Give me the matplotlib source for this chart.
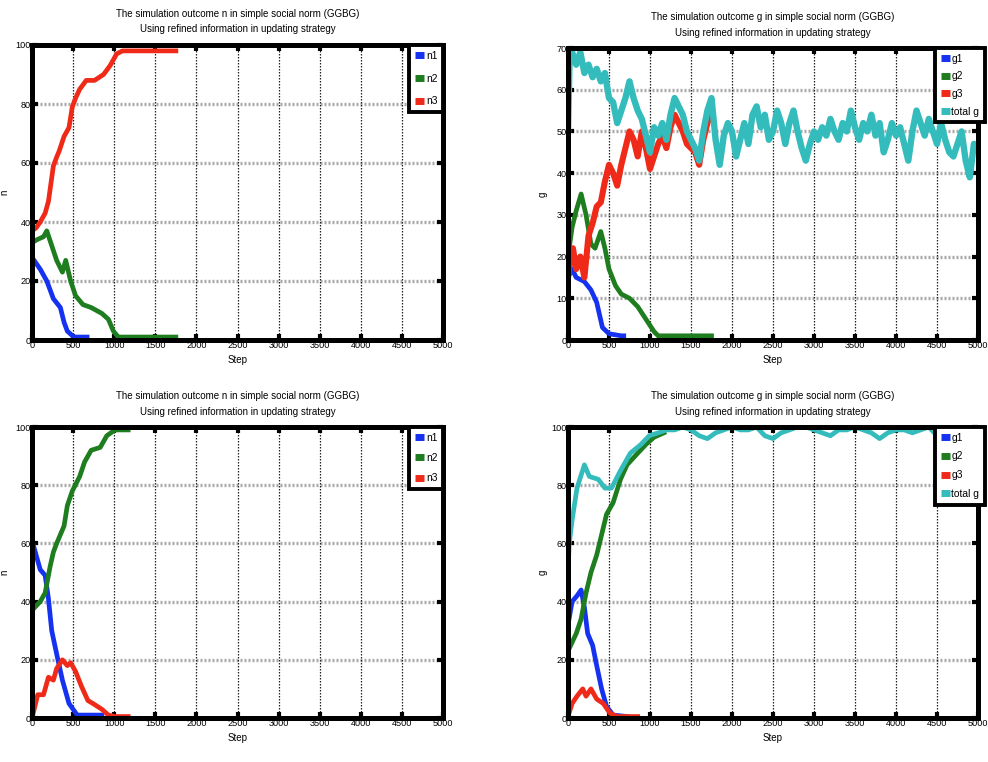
import matplotlib
matplotlib.use("Agg")
import matplotlib.pyplot as plt
from matplotlib.lines import Line2D

plt.rcParams['font.family'] = ['Liberation Sans Narrow', 'Liberation Sans', 'DejaVu Sans']

# ---------------- data ----------------
TITLE_N = "The simulation outcome n in simple social norm (GGBG)\nUsing refined information in updating strategy"
TITLE_G = "The simulation outcome g in simple social norm (GGBG)\nUsing refined information in updating strategy"
x_ticks = [0, 500, 1000, 1500, 2000, 2500, 3000, 3500, 4000, 4500, 5000]

# Top-left: n
tl_n1_x = [0, 100, 180, 260, 345, 390, 430, 510, 600, 670]
tl_n1_y = [28, 24, 20, 14, 11, 6, 3, 1, 1, 1]
tl_n2_x = [0, 60, 140, 180, 240, 300, 370, 410, 470, 530, 620, 720, 850, 930, 990, 1050, 1100, 1750]
tl_n2_y = [33, 34, 35, 37, 32, 27, 23, 27, 20, 15, 12, 11, 9, 7, 3, 1, 1, 1]
tl_n3_x = [0, 50, 100, 160, 200, 240, 260, 300, 330, 390, 450, 490, 530, 580, 660, 760, 870, 950, 1030, 1100, 1750]
tl_n3_y = [37, 38, 40, 43, 47, 55, 59, 62, 64, 69, 72, 79, 82, 85, 88, 88, 90, 93, 97, 98, 98]

# Top-right: g
tr_g1_x = [0, 50, 100, 200, 280, 350, 420, 500, 650, 680]
tr_g1_y = [15, 17, 15, 14, 12, 9, 3, 1.5, 1, 1]
tr_g2_x = [0, 50, 100, 160, 220, 280, 330, 400, 450, 500, 580, 650, 750, 850, 950, 1050, 1100, 1750]
tr_g2_y = [20, 27, 31, 35, 30, 23, 22, 26, 22, 17, 13, 11, 10, 8, 5, 2, 1, 1]
tr_g3_x = [0, 30, 60, 100, 150, 200, 250, 300, 350, 400, 450, 500, 550, 600, 650, 700, 750, 800,
           850, 900, 950, 1000, 1050, 1100, 1150, 1200, 1250, 1300, 1350, 1400, 1450, 1500, 1550,
           1600, 1650, 1700, 1750]
tr_g3_y = [15, 20, 22, 17, 20, 15, 25, 28, 32, 33, 38, 42, 40, 37, 42, 46, 50, 48,
           44, 50, 46, 41, 44, 47, 49, 46, 51, 54, 52, 50, 47, 46, 45, 42, 48, 52, 55]
tr_tot_x = [0, 20] + list(range(50, 5001, 50))
tr_tot_y = [50, 68,
            69, 66, 69, 64, 66, 63, 65, 62, 64, 58,
            57, 52, 55, 58, 62, 58, 55, 53, 49, 45,
            51, 49, 52, 48, 54, 58, 56, 54, 50, 48,
            46, 43, 50, 55, 58, 48, 42, 49, 52, 50,
            44, 48, 52, 47, 54, 56, 51, 54, 48, 50,
            55, 52, 47, 52, 55, 50, 46, 43, 47, 50,
            48, 51, 49, 53, 50, 48, 52, 50, 55, 51,
            48, 52, 50, 54, 49, 52, 45, 48, 52, 49,
            51, 47, 43, 50, 55, 52, 49, 53, 50, 47,
            52, 48, 45, 44, 47, 50, 43, 39, 47, 46]

# Bottom-left: n
bl_n1_x = [0, 100, 160, 200, 240, 300, 370, 450, 550, 850]
bl_n1_y = [61, 51, 49, 41, 30, 22, 13, 5, 1, 1]
bl_n2_x = [0, 100, 160, 220, 260, 300, 390, 430, 490, 580, 640, 720, 830, 910, 1010, 1100, 1170]
bl_n2_y = [37, 40, 43, 52, 57, 60, 66, 73, 78, 83, 88, 92, 93, 97, 99, 99, 99]
bl_n3_x = [0, 70, 140, 200, 260, 300, 370, 430, 470, 530, 600, 680, 740, 850, 930, 1010, 1170]
bl_n3_y = [0, 8, 8, 14, 13, 17, 20, 18, 19, 16, 11, 6, 5, 3, 1, 0.5, 0.5]

# Bottom-right: g
br_g1_x = [0, 50, 110, 160, 200, 240, 300, 350, 410, 470, 550, 720]
br_g1_y = [32, 40, 42, 44, 38, 29, 25, 18, 10, 4, 1, 0.5]
br_g2_x = [0, 100, 160, 220, 280, 350, 410, 470, 550, 640, 720, 850, 950, 1050, 1170]
br_g2_y = [23, 29, 34, 43, 50, 56, 63, 70, 74, 82, 87, 91, 94, 96.5, 98]
br_g3_x = [0, 50, 110, 180, 220, 280, 350, 430, 510, 600, 850]
br_g3_y = [0.5, 5, 7.5, 10, 7.5, 10, 6.5, 5, 1.7, 0.5, 0.5]
br_tot_x = [0, 15, 50, 110, 200, 260, 370, 450, 530, 640, 760, 890, 990] + list(range(1100, 5001, 100))
br_tot_y = [50, 60, 68, 79, 87, 83, 82, 79, 79, 85, 91, 94, 97,
            98, 99, 99, 100, 99, 97, 96, 98, 99, 100,
            99, 99, 100, 97, 96, 98, 99, 100, 100, 99,
            98, 97, 99, 99, 100, 99, 98, 96, 98, 99,
            99, 98, 99, 100, 97, 98, 99, 100, 100, 99]

C_BLUE = '#1432f0'
C_GREEN = '#1e7d1e'
C_RED = '#f02a18'
C_CYAN = '#34bcbc'

FS_TICK = 6.6
FS_TEXT = 7.0
FS_LEG = 7.4

fig = plt.figure(figsize=(9.88, 7.62), dpi=100)

def px(x0, ytop, x1, ybot):
    W, H = 988.0, 762.0
    return [x0 / W, 1 - ybot / H, (x1 - x0) / W, (ybot - ytop) / H]

def style(ax, ymax, ystep, title, ylabel, ylab_x):
    ax.set_xlim(0, 5000)
    ax.set_ylim(0, ymax)
    ax.set_xticks(x_ticks)
    ax.set_yticks(list(range(0, ymax + 1, ystep)))
    for yv in range(ystep, ymax, ystep):
        ax.axhline(yv, color='#a8a8a8', lw=2.4, ls=(0, (0.6, 0.6)), zorder=1)
    for xv in x_ticks[1:-1]:
        ax.axvline(xv, color='#222222', lw=0.9, ls=(0, (1.2, 1.2)), zorder=1)
    for s in ax.spines.values():
        s.set_linewidth(3.6)
        s.set_zorder(5)
    ax.tick_params(direction='in', length=4, width=3, top=True, right=True,
                   labelsize=FS_TICK, pad=1.0)
    ax.set_title(title, fontsize=FS_TEXT, pad=9, linespacing=1.7)
    ax.set_xlabel('Step', fontsize=FS_TEXT, labelpad=3)
    ax.set_ylabel(ylabel, fontsize=FS_TEXT)
    ax.yaxis.set_label_coords(ylab_x, 0.5)

def legend(ax, labels, colors, anchor, spacing):
    handles = [Line2D([0], [0], color=c, lw=5, solid_capstyle='butt') for c in colors]
    leg = ax.legend(handles, labels, loc='upper right', bbox_to_anchor=anchor,
                    borderaxespad=0, fontsize=FS_LEG, handlelength=0.9, handletextpad=0.15,
                    labelspacing=spacing, borderpad=0.55, fancybox=False, framealpha=1,
                    edgecolor='black')
    leg.get_frame().set_linewidth(2.8)
    leg.set_zorder(10)

LW = 3.4

# Top-left
ax1 = fig.add_axes(px(32, 45, 443, 340))
ax1.plot(tl_n1_x, tl_n1_y, color=C_BLUE, lw=LW, zorder=3)
ax1.plot(tl_n2_x, tl_n2_y, color=C_GREEN, lw=LW, zorder=3)
ax1.plot(tl_n3_x, tl_n3_y, color=C_RED, lw=LW, zorder=3)
style(ax1, 100, 20, TITLE_N, 'n', -0.055)
legend(ax1, ['n1', 'n2', 'n3'], [C_BLUE, C_GREEN, C_RED], (1.0, 1.0), 1.25)

# Top-right
ax2 = fig.add_axes(px(568, 48, 978, 340))
ax2.plot(tr_g1_x, tr_g1_y, color=C_BLUE, lw=LW, zorder=3)
ax2.plot(tr_g2_x, tr_g2_y, color=C_GREEN, lw=LW, zorder=3)
ax2.plot(tr_g3_x, tr_g3_y, color=C_RED, lw=LW + 1, zorder=3)
ax2.plot(tr_tot_x, tr_tot_y, color=C_CYAN, lw=LW + 1.2, zorder=3)
style(ax2, 70, 10, TITLE_G, 'g', -0.05)
legend(ax2, ['g1', 'g2', 'g3', 'total g'], [C_BLUE, C_GREEN, C_RED, C_CYAN], (1.017, 1.0), 0.75)

# Bottom-left
ax3 = fig.add_axes(px(32, 427, 443, 718))
ax3.plot(bl_n1_x, bl_n1_y, color=C_BLUE, lw=LW, zorder=3)
ax3.plot(bl_n2_x, bl_n2_y, color=C_GREEN, lw=LW, zorder=3)
ax3.plot(bl_n3_x, bl_n3_y, color=C_RED, lw=LW, zorder=3)
style(ax3, 100, 20, TITLE_N, 'n', -0.055)
legend(ax3, ['n1', 'n2', 'n3'], [C_BLUE, C_GREEN, C_RED], (1.0, 1.0), 1.0)

# Bottom-right
ax4 = fig.add_axes(px(568, 427, 978, 718))
ax4.plot(br_g1_x, br_g1_y, color=C_BLUE, lw=LW, zorder=3)
ax4.plot(br_g2_x, br_g2_y, color=C_GREEN, lw=LW, zorder=3)
ax4.plot(br_g3_x, br_g3_y, color=C_RED, lw=LW, zorder=3)
ax4.plot(br_tot_x, br_tot_y, color=C_CYAN, lw=LW, zorder=3)
style(ax4, 100, 20, TITLE_G, 'g', -0.05)
legend(ax4, ['g1', 'g2', 'g3', 'total g'], [C_BLUE, C_GREEN, C_RED, C_CYAN], (1.017, 1.0), 0.85)

fig.savefig('out.png', dpi=100)
